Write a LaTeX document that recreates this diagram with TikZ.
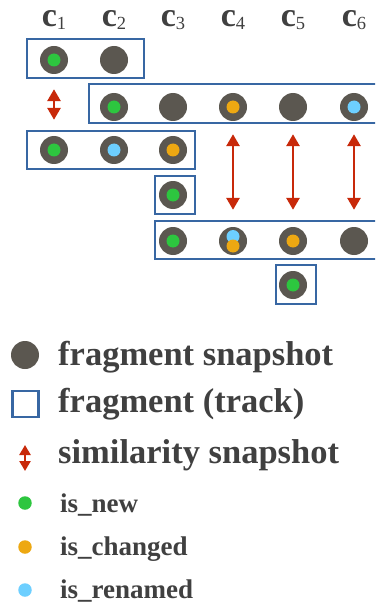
\documentclass[tikz,border=0pt]{standalone}
\usepackage{fontspec}
\setmainfont{Liberation Serif}
\usetikzlibrary{arrows.meta}
\definecolor{dotgray}{HTML}{5B5750}
\definecolor{newgreen}{HTML}{2DC63F}
\definecolor{chgorange}{HTML}{EDA812}
\definecolor{renblue}{HTML}{6DCFFF}
\definecolor{simred}{HTML}{C8290A}
\definecolor{trackblue}{HTML}{3867A3}
\definecolor{txtgray}{HTML}{404040}
\begin{document}
\begin{tikzpicture}[x=1pt,y=-1pt,
  frag/.style={circle,fill=dotgray,minimum size=28pt,inner sep=0pt},
  fnew/.style={frag,path picture={\fill[newgreen] (path picture bounding box.center) circle (6.5pt);}},
  fchg/.style={frag,path picture={\fill[chgorange] (path picture bounding box.center) circle (6.5pt);}},
  fren/.style={frag,path picture={\fill[renblue] (path picture bounding box.center) circle (6.5pt);}},
  fboth/.style={frag,path picture={\fill[renblue] ([yshift=4.5pt]path picture bounding box.center) circle (6.5pt);
                                   \fill[chgorange] ([yshift=-5pt]path picture bounding box.center) circle (6.5pt);}},
  track/.style={draw=trackblue,line width=2.6pt},
  simdouble/.style={draw=simred,line width=2.8pt,{Triangle[width=13pt,length=12pt]}-{Triangle[width=13pt,length=12pt]}},
  col/.style={anchor=base,text=txtgray,inner sep=0pt},
  bigtxt/.style={anchor=base west,text=txtgray,inner sep=0pt,font=\fontsize{34.5}{34.5}\selectfont\bfseries},
  smalltxt/.style={anchor=base west,text=txtgray,inner sep=0pt,font=\fontsize{27}{27}\selectfont\bfseries},
  dotsmall/.style={circle,minimum size=13.5pt,inner sep=0pt}
]
\clip (0,0) rectangle (375,604);
\fill[white] (0,0) rectangle (375,604);

% column labels
\foreach \i/\x in {1/54,2/114,3/173,4/233,5/293,6/354}{
  \node[col] (c\i) at (\x,27) {{\fontsize{34}{34}\selectfont\bfseries c}\raisebox{-3pt}{\fontsize{18.5}{18.5}\selectfont \i}};
}

% track boxes
\draw[track] (27,39) rectangle (144,78);
\draw[track] (89,84) rectangle (390,123);
\draw[track] (27,131) rectangle (195,169);
\draw[track] (155,176) rectangle (195,214);
\draw[track] (155,221) rectangle (390,259);
\draw[track] (276,265) rectangle (316,304);

% row 1
\node[fnew] (d11) at (54,60) {};
\node[frag] (d12) at (114,60) {};
% row 2
\node[fnew] (d22) at (114,107) {};
\node[frag] (d23) at (173,107) {};
\node[fchg] (d24) at (233,107) {};
\node[frag] (d25) at (293,107) {};
\node[fren] (d26) at (354,107) {};
% row 3
\node[fnew] (d31) at (54,150) {};
\node[fren] (d32) at (114,150) {};
\node[fchg] (d33) at (173,150) {};
% row 4
\node[fnew] (d43) at (173,195) {};
% row 5
\node[fnew] (d53) at (173,241) {};
\node[fboth] (d54) at (233,241) {};
\node[fchg] (d55) at (293,241) {};
\node[frag] (d56) at (354,241) {};
% row 6
\node[fnew] (d65) at (293,285) {};

% similarity arrows
\draw[simdouble,shorten <=15pt,shorten >=16pt] (d11) -- (d31);
\draw[simdouble,shorten <=13pt,shorten >=17pt] (d24) -- (d54);
\draw[simdouble,shorten <=13pt,shorten >=17pt] (d25) -- (d55);
\draw[simdouble,shorten <=13pt,shorten >=17pt] (d26) -- (d56);

% legend
\node[frag] (lg1) at (25,355) {};
\node[bigtxt] (lt1) at (58,365) {fragment snapshot};
\node[draw=trackblue,line width=2.6pt,minimum size=26pt,inner sep=0pt] (lg2) at (25.5,404) {};
\node[bigtxt] (lt2) at (58,412) {fragment (track)};
\coordinate (la1) at (25,445);
\coordinate (la2) at (25,471);
\draw[draw=simred,line width=2.4pt,{Triangle[width=11pt,length=10pt]}-{Triangle[width=11pt,length=10pt]}] (la1) -- (la2);
\node[bigtxt] (lt3) at (58,463) {similarity snapshot};
\node[dotsmall,fill=newgreen] (lg4) at (25,503) {};
\node[smalltxt] (lt4) at (60,512) {is\_new};
\node[dotsmall,fill=chgorange] (lg5) at (25,547) {};
\node[smalltxt] (lt5) at (60,555) {is\_changed};
\node[dotsmall,fill=renblue] (lg6) at (25,590) {};
\node[smalltxt] (lt6) at (60,598) {is\_renamed};
\end{tikzpicture}
\end{document}
